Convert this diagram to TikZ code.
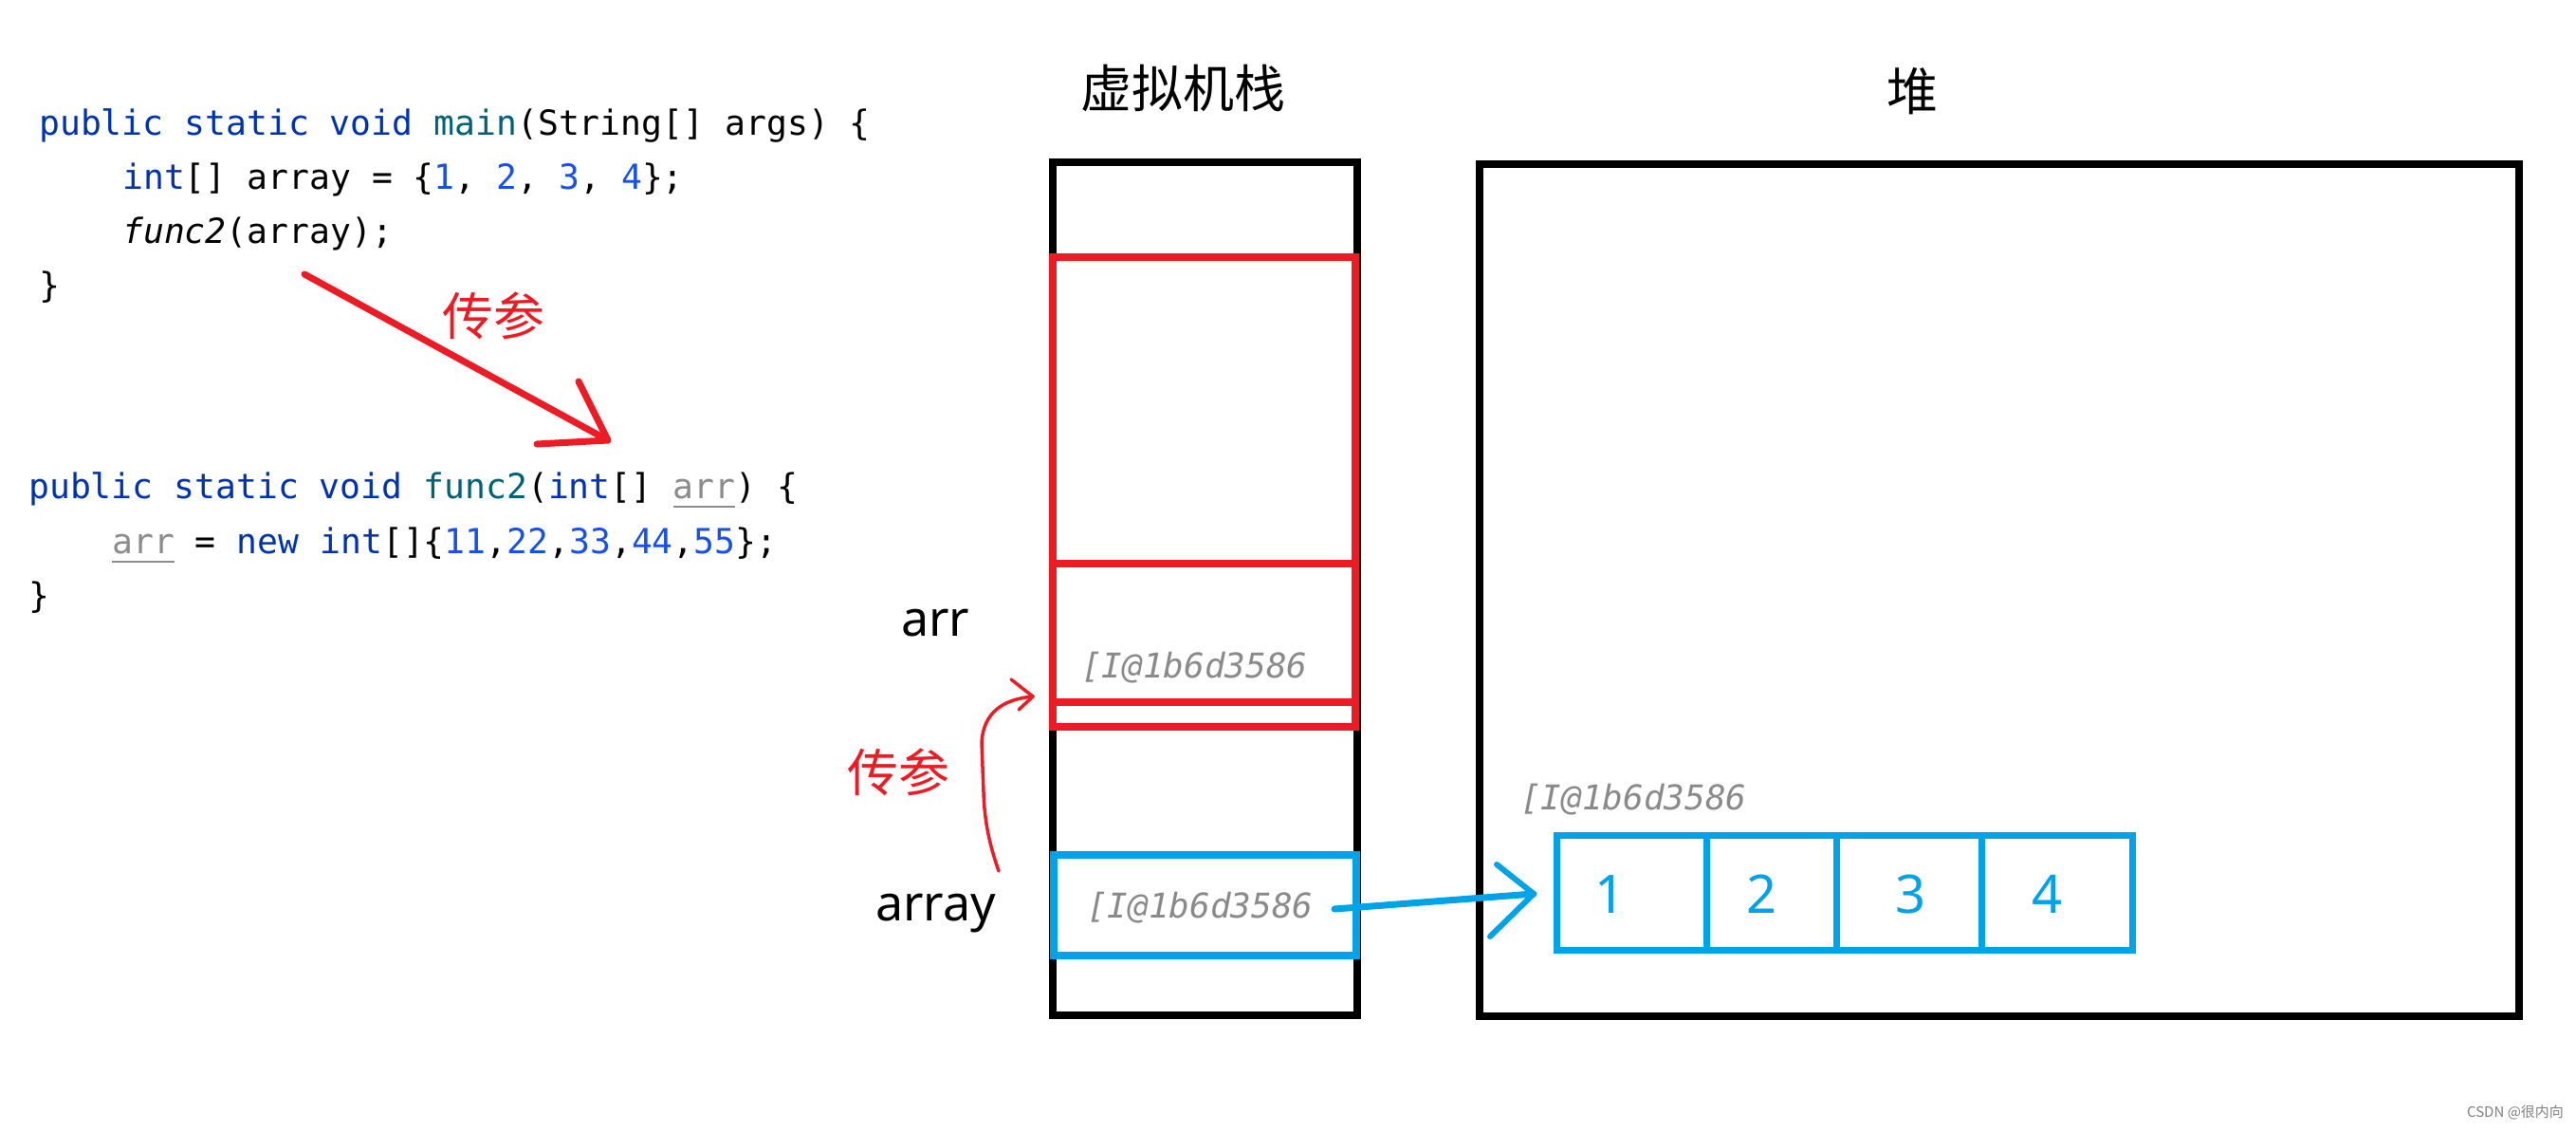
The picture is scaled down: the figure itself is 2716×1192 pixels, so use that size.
\documentclass[tikz,border=0pt]{standalone}
\usepackage{fontspec}
\setmonofont{DejaVu Sans Mono}
\newfontfamily\cjkf{Noto Sans CJK SC}
\newfontfamily\latf{Noto Sans}
\definecolor{kw}{HTML}{0033B3}
\definecolor{fn}{HTML}{00627A}
\definecolor{num}{HTML}{1750EB}
\definecolor{prm}{HTML}{8C8C8C}
\definecolor{pred}{HTML}{ED1C24}
\definecolor{pblue}{HTML}{00A2E8}
\definecolor{addr}{HTML}{8A8A8A}
\newcommand\ulc[1]{\setbox0=\hbox{#1}\rlap{\rule[-10pt]{\wd0}{2.5pt}}\box0}
\begin{document}
\begin{tikzpicture}[x=1pt,y=-1pt,
  code/.style={anchor=base west, inner sep=0pt, font=\fontsize{36.4}{40}\selectfont\ttfamily},
  addrtxt/.style={anchor=base west, inner sep=0pt, text=addr, font=\fontsize{36}{40}\selectfont\ttfamily\itshape},
  memframe/.style={draw, line width=8pt, inner sep=0pt},
  cellbox/.style={draw=pblue, line width=7pt, minimum height=121pt, inner sep=0pt},
  cjklbl/.style={inner sep=0pt, font=\fontsize{54}{60}\selectfont\cjkf},
  sanslbl/.style={anchor=base west, inner sep=0pt, font=\fontsize{52}{60}\selectfont\latf},
  digit/.style={anchor=base, inner sep=0pt, text=pblue, font=\fontsize{56}{60}\selectfont\latf},
  redpen/.style={draw=pred, line cap=round, line join=round},
  bluepen/.style={draw=pblue, line cap=round, line join=round}]
\useasboundingbox (0,0) rectangle (2716,1192);

% code, main
\node[code] (l1) at (41,142) {\textcolor{kw}{public static void} \textcolor{fn}{main}(String[] args) \{};
\node[code] (l2) at (129,199) {\textcolor{kw}{int}[] array = \{\textcolor{num}{1}, \textcolor{num}{2}, \textcolor{num}{3}, \textcolor{num}{4}\};};
\node[code] (l3) at (129,256) {\textit{func2}(array);};
\node[code] (l4) at (41,313) {\}};
% code, func2
\node[code] (l5) at (30,525) {\textcolor{kw}{public static void} \textcolor{fn}{func2}(\textcolor{kw}{int}[] \textcolor{prm}{\ulc{arr}}) \{};
\node[code] (l6) at (118,583) {\textcolor{prm}{\ulc{arr}} = \textcolor{kw}{new} \textcolor{kw}{int}[]\{\textcolor{num}{11},\textcolor{num}{22},\textcolor{num}{33},\textcolor{num}{44},\textcolor{num}{55}\};};
\node[code] (l7) at (30,640) {\}};

% upper red arrow
\coordinate (ra1) at (321,289);
\coordinate (ra2) at (641,464);
\draw[redpen, line width=7pt] (ra1) -- (ra2);
\draw[redpen, line width=7pt] (610,402) -- (ra2) -- (566,468);
\node[cjklbl, text=pred] (p1) at (520,333) {传参};

% titles
\node[cjklbl] (t1) at (1247,93) {虚拟机栈};
\node[cjklbl] (t2) at (2016,96) {堆};

% stack
\node[memframe, minimum width=321pt, minimum height=899pt] (stack) at (1270.5,620.5) {};
\node[memframe, draw=pred, minimum width=319pt, minimum height=495pt] (frame) at (1269.5,518.5) {};
\draw[pred, line width=8pt] (1110,594) -- (1429,594);
\draw[pred, line width=8pt] (1110,740) -- (1429,740);
\node[memframe, draw=pblue, minimum width=319pt, minimum height=106pt] (ref) at (1270.5,954) {};

% heap
\node[memframe, minimum width=1096pt, minimum height=898pt] (heap) at (2108,622) {};
\node[cellbox, minimum width=158pt] (c1) at (1720,940.5) {};
\node[cellbox, minimum width=137pt] (c2) at (1867.5,940.5) {};
\node[cellbox, minimum width=153pt] (c3) at (2012.5,940.5) {};
\node[cellbox, minimum width=159pt] (c4) at (2168.5,940.5) {};
\node[digit] (d1) at (1697,962) {1};
\node[digit] (d2) at (1857,962) {2};
\node[digit] (d3) at (2014,962) {3};
\node[digit] (d4) at (2158,962) {4};

% addresses
\node[addrtxt] (a1) at (1140,714) {[I@1b6d3586};
\node[addrtxt] (a2) at (1146,967) {[I@1b6d3586};
\node[addrtxt] (a3) at (1603,853) {[I@1b6d3586};

% labels
\node[sanslbl] (arr) at (950,670) {arr};
\node[sanslbl] (array) at (923,970) {array};

% lower red curve
\coordinate (cs) at (1053,918);
\coordinate (ce) at (1089,734);
\draw[redpen, line width=3.5pt] (cs) .. controls (1044,892) and (1038,868) .. (1037,835) -- (1035,782) .. controls (1037,752) and (1056,737) .. (ce);
\draw[redpen, line width=3.5pt] (1066,716) -- (ce) -- (1074,748);
\node[cjklbl, text=pred] (p2) at (947,814) {传参};

% blue arrow
\coordinate (bs) at (1407,958);
\coordinate (be) at (1617,942);
\draw[bluepen, line width=7pt] (bs) -- (be);
\draw[bluepen, line width=6pt] (1578,911) -- (be) -- (1571,987);

% watermark
\node[inner sep=0pt, text=gray, font=\fontsize{15}{16}\selectfont\cjkf] (wm) at (2652,1172) {CSDN @很内向};
\end{tikzpicture}
\end{document}
